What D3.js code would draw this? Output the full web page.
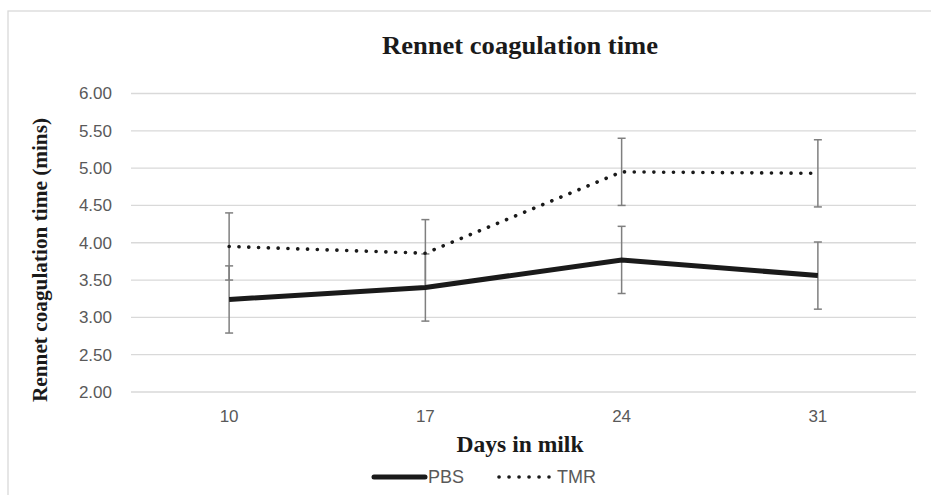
<!DOCTYPE html>
<html lang="en">
<head>
    <meta charset="UTF-8">
    <title>Rennet coagulation time</title>
    <script src="https://cdn.jsdelivr.net/npm/d3@7"></script>
    <style>
        body { margin: 0; background: #fff; }
        svg { display: block; }
        .grid line { stroke: #d9d9d9; stroke-width: 1.3px; }
        .tick-label { font-family: "Liberation Sans", Arial, sans-serif; font-size: 17px; fill: #595959; }
        .serif { font-family: "Liberation Serif", "Times New Roman", serif; font-weight: bold; fill: #1a1a1a; }
    </style>
</head>
<body>
<script>
    // data
    const days = ["10", "17", "24", "31"];
    const pbs = [3.24, 3.40, 3.77, 3.56];
    const tmr = [3.95, 3.86, 4.95, 4.93];
    const pbsErr = [0.45, 0.45, 0.45, 0.45];
    const tmrErr = [0.45, 0.45, 0.45, 0.45];
    const yTicks = [2, 2.5, 3, 3.5, 4, 4.5, 5, 5.5, 6];

    const W = 931, H = 495;
    const margin = { top: 93.5, right: 15, bottom: 103, left: 131 };

    const svg = d3.select("body").append("svg")
        .attr("width", W)
        .attr("height", H);

    // chart border
    svg.append("rect")
        .attr("x", 8).attr("y", 11)
        .attr("width", W).attr("height", H)
        .attr("fill", "none")
        .attr("stroke", "#d9d9d9")
        .attr("stroke-width", 1.3);

    const x = d3.scaleBand()
        .domain(days)
        .range([margin.left, W - margin.right]);

    const y = d3.scaleLinear()
        .domain([2, 6])
        .range([H - margin.bottom, margin.top]);

    const cx = d => x(d) + x.bandwidth() / 2;

    // gridlines
    svg.append("g").attr("class", "grid")
        .selectAll("line")
        .data(yTicks)
        .join("line")
        .attr("x1", margin.left).attr("x2", W - margin.right)
        .attr("y1", d => y(d)).attr("y2", d => y(d));

    // y tick labels
    svg.append("g")
        .selectAll("text")
        .data(yTicks)
        .join("text")
        .attr("class", "tick-label")
        .attr("x", 112)
        .attr("y", d => y(d))
        .attr("dy", "0.35em")
        .attr("text-anchor", "end")
        .text(d => d.toFixed(2));

    // x tick labels
    svg.append("g")
        .selectAll("text")
        .data(days)
        .join("text")
        .attr("class", "tick-label")
        .attr("x", d => cx(d))
        .attr("y", 422)
        .attr("text-anchor", "middle")
        .text(d => d);

    // error bars
    function errorBars(vals, errs) {
        const g = svg.append("g")
            .attr("stroke", "#7f7f7f")
            .attr("stroke-width", 1.5);
        days.forEach((d, i) => {
            const px = cx(d);
            const lo = y(vals[i] - errs[i]);
            const hi = y(vals[i] + errs[i]);
            g.append("line").attr("x1", px).attr("x2", px).attr("y1", lo).attr("y2", hi);
            g.append("line").attr("x1", px - 4).attr("x2", px + 4).attr("y1", lo).attr("y2", lo);
            g.append("line").attr("x1", px - 4).attr("x2", px + 4).attr("y1", hi).attr("y2", hi);
        });
    }
    errorBars(pbs, pbsErr);
    errorBars(tmr, tmrErr);

    const line = d3.line()
        .x((d, i) => cx(days[i]))
        .y(d => y(d));

    // PBS line
    svg.append("path")
        .datum(pbs)
        .attr("d", line)
        .attr("fill", "none")
        .attr("stroke", "#1a1a1a")
        .attr("stroke-width", 5);

    // TMR line
    svg.append("path")
        .datum(tmr)
        .attr("d", line)
        .attr("fill", "none")
        .attr("stroke", "#1a1a1a")
        .attr("stroke-width", 3.6)
        .attr("stroke-linecap", "round")
        .attr("stroke-dasharray", "0.1 9.7");

    // title
    svg.append("text")
        .attr("class", "serif")
        .attr("x", 520).attr("y", 54)
        .attr("text-anchor", "middle")
        .attr("textLength", 276)
        .attr("lengthAdjust", "spacingAndGlyphs")
        .style("font-size", "26px")
        .text("Rennet coagulation time");

    // axis titles
    svg.append("text")
        .attr("class", "serif")
        .attr("x", 520).attr("y", 452)
        .attr("text-anchor", "middle")
        .attr("textLength", 127)
        .attr("lengthAdjust", "spacingAndGlyphs")
        .style("font-size", "23px")
        .text("Days in milk");

    svg.append("text")
        .attr("class", "serif")
        .attr("transform", "translate(47,260) rotate(-90)")
        .attr("text-anchor", "middle")
        .attr("textLength", 284)
        .attr("lengthAdjust", "spacingAndGlyphs")
        .style("font-size", "21px")
        .text("Rennet coagulation time (mins)");

    // legend
    const leg = svg.append("g");
    leg.append("line")
        .attr("x1", 374).attr("x2", 425).attr("y1", 477).attr("y2", 477)
        .attr("stroke", "#1a1a1a").attr("stroke-width", 5).attr("stroke-linecap", "round");
    leg.append("text").attr("class", "tick-label")
        .attr("x", 428).attr("y", 477).attr("dy", "0.35em")
        .style("font-size", "18px").text("PBS");
    leg.append("line")
        .attr("x1", 499).attr("x2", 549).attr("y1", 477).attr("y2", 477)
        .attr("stroke", "#1a1a1a").attr("stroke-width", 3.6)
        .attr("stroke-linecap", "round").attr("stroke-dasharray", "0.1 9.9");
    leg.append("text").attr("class", "tick-label")
        .attr("x", 557).attr("y", 477).attr("dy", "0.35em")
        .style("font-size", "18px").text("TMR");
</script>
</body>
</html>
